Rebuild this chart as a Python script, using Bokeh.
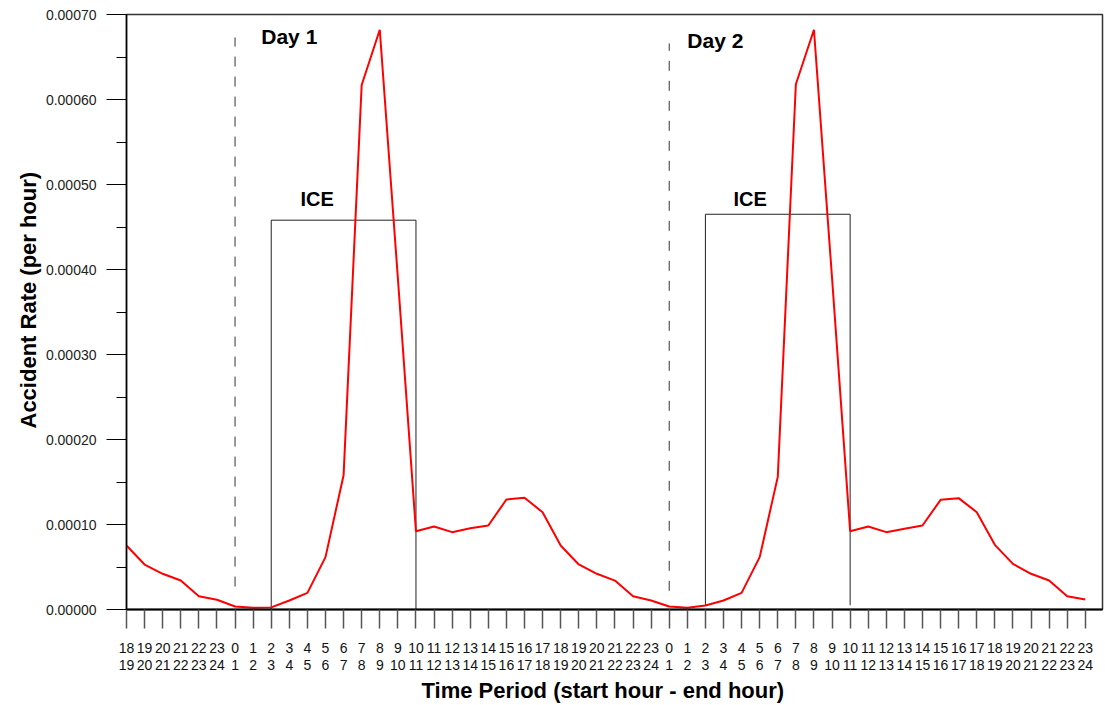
from bokeh.plotting import figure
from bokeh.models import Range1d, FixedTicker, LinearAxis, PrintfTickFormatter, Title
from bokeh.core.properties import value
from bokeh.embed import file_html
from bokeh.resources import INLINE

# ---- data ----
start_hours = list(range(18, 24)) + list(range(24)) + list(range(24))
end_hours = [h + 1 for h in start_hours]
rates = [
    0.0000753, 0.0000529, 0.0000420, 0.0000341, 0.0000157, 0.0000114,
    0.0000035, 0.0000020, 0.0000025, 0.0000106, 0.0000196, 0.0000616,
    0.0001580, 0.0006170, 0.0006820, 0.0003900, 0.0000921, 0.0000976,
    0.0000910, 0.0000957, 0.0000988, 0.0001294, 0.0001314, 0.0001145,
    0.0000753, 0.0000530, 0.0000420, 0.0000340, 0.0000157, 0.0000106,
    0.0000035, 0.0000020, 0.0000047, 0.0000106, 0.0000196, 0.0000616,
    0.0001560, 0.0006180, 0.0006820, 0.0003900, 0.0000921, 0.0000976,
    0.0000910, 0.0000950, 0.0000988, 0.0001290, 0.0001310, 0.0001145,
    0.0000761, 0.0000537, 0.0000420, 0.0000341, 0.0000157, 0.0000118,
]
y_ticks = [0.0, 0.0001, 0.0002, 0.0003, 0.0004, 0.0005, 0.0006, 0.0007]
y_minor = [0.00005, 0.00015, 0.00025, 0.00035, 0.00045, 0.00055, 0.00065]

day_labels = ["Day 1", "Day 2"]
day_start_idx = [6, 30]            # index of the "0-1" period of each day
day_line_top = [0.000673, 0.000666]
day_line_bottom = [0.000027, 0.000022]
day_label_x = [7.45, 31.0]
day_label_y = [0.000674, 0.000669]

ice_left_idx = [8, 32]             # "2-3" period
ice_right_idx = [16, 40]           # "10-11" period
ice_top = [0.000458, 0.000465]
ice_bottom = [0.0, 0.000005]
ice_label_x = [10.54, 34.47]
ice_label_y = [0.000483, 0.000483]

x_title = "Time Period (start hour - end hour)"
y_title = "Accident Rate (per hour)"

x = list(range(len(rates)))
FONT = "Liberation Sans"

p = figure(width=1105, height=705, output_backend="svg", toolbar_location=None,
           x_range=Range1d(0, 53.95), y_range=Range1d(0, 0.0007),
           min_border_left=126, min_border_right=3, min_border_top=14,
           min_border_bottom=96)
p.background_fill_color = "white"
p.border_fill_color = "white"
p.grid.visible = False
p.outline_line_color = "#333333"
p.outline_line_width = 1.5

# x axis, first row (start hours)
ax1 = p.xaxis[0]
ax1.ticker = FixedTicker(ticks=x, minor_ticks=[])
ax1.major_label_overrides = {i: str(h) for i, h in zip(x, start_hours)}
ax1.major_tick_out = 19
ax1.major_tick_in = 0
ax1.major_tick_line_color = "#555555"
ax1.major_tick_line_width = 1.5
ax1.axis_line_color = "black"
ax1.axis_line_width = 2
ax1.major_label_text_font = FONT
ax1.major_label_text_font_size = "14px"
ax1.major_label_text_color = "#111111"
ax1.major_label_standoff = 14

# x axis, second row (end hours)
ax2 = LinearAxis(ticker=FixedTicker(ticks=x, minor_ticks=[]))
ax2.major_label_overrides = {i: str(h) for i, h in zip(x, end_hours)}
ax2.major_tick_out = 0
ax2.major_tick_in = 0
ax2.axis_line_color = None
ax2.major_tick_line_color = None
ax2.major_label_text_font = FONT
ax2.major_label_text_font_size = "14px"
ax2.major_label_text_color = "#111111"
ax2.major_label_standoff = 4
p.add_layout(ax2, "below")

p.add_layout(Title(text=x_title, align="left", offset=295, standoff=6,
                   text_font=FONT, text_font_style="bold", text_font_size="22px",
                   text_color="black"), "below")

# y axis
ay = p.yaxis[0]
ay.ticker = FixedTicker(ticks=y_ticks, minor_ticks=y_minor)
ay.formatter = PrintfTickFormatter(format="%.5f")
ay.major_tick_out = 20
ay.major_tick_in = 0
ay.minor_tick_out = 10
ay.minor_tick_in = 0
ay.major_tick_line_color = "black"
ay.minor_tick_line_color = "black"
ay.axis_line_color = "black"
ay.axis_line_width = 1.5
ay.major_label_text_font = FONT
ay.major_label_text_font_size = "14px"
ay.major_label_text_color = "#222222"
ay.major_label_standoff = 10

p.add_layout(Title(text=y_title, align="left", offset=181, standoff=3,
                   text_font=FONT, text_font_style="bold", text_font_size="22px",
                   text_color="black"), "left")

# ICE boxes
for l, r, t, b in zip(ice_left_idx, ice_right_idx, ice_top, ice_bottom):
    p.line([l, l, r, r], [b, t, t, b], line_color="#222222", line_width=1)

# day separators
p.segment(x0=day_start_idx, y0=day_line_bottom, x1=day_start_idx, y1=day_line_top,
          line_color="#333333", line_width=1, line_dash="10 10")

# rate line
p.line(x, rates, line_color="#ff0000", line_width=2)

# labels
p.text(x=day_label_x, y=day_label_y, text=day_labels, text_font=value(FONT),
       text_font_style="bold", text_font_size="21px", text_align="left",
       text_baseline="middle", text_color="black")
p.text(x=ice_label_x, y=ice_label_y, text=["ICE", "ICE"], text_font=value(FONT),
       text_font_style="bold", text_font_size="20px", text_align="center",
       text_baseline="middle", text_color="black")

open("out.html", "w").write(file_html(p, INLINE))
